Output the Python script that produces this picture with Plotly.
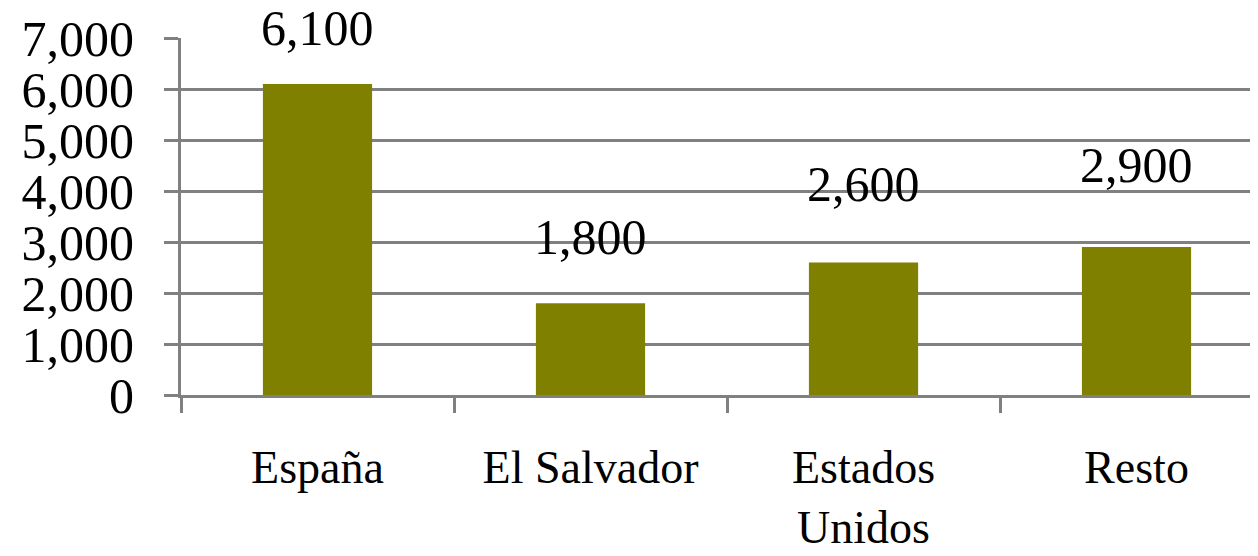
import plotly.graph_objects as go

# data
paises = ['España', 'El Salvador', 'Estados<br>Unidos', 'Resto']
valores = [6100, 1800, 2600, 2900]
y_ticks = [0, 1000, 2000, 3000, 4000, 5000, 6000, 7000]

# labels sit a bit above each bar, not at a fixed distance in the original
label_lift = [56, 66, 78, 82]

fig = go.Figure()

fig.add_trace(
    go.Bar(
        x=paises,
        y=valores,
        marker={'color': '#808000', 'line': {'width': 0}},
        showlegend=False,
    )
)

for p, v, lift in zip(paises, valores, label_lift):
    fig.add_annotation(
        x=p, y=v, text=f'{v:,}',
        showarrow=False, yshift=lift,
        font={'size': 50, 'color': 'black', 'family': 'Liberation Serif'},
    )

# page body has an 8px margin, so the figure is a bit smaller than the window
fig.update_layout(
    width=1250, height=548,
    margin={'l': 173, 'r': 0, 't': 30, 'b': 161},
    plot_bgcolor='white', paper_bgcolor='white',
    bargap=0.6,
    font={'family': 'Liberation Serif', 'size': 46, 'color': 'black'},
)

fig.update_xaxes(
    range=[-0.5, 3.445],
    showline=True, linecolor='#808080', linewidth=3,
    ticks='outside', tickson='boundaries', ticklen=15,
    tickcolor='#808080', tickwidth=3,
    showgrid=False,
    ticklabelstandoff=30,
)

fig.update_yaxes(
    range=[0, 7000],
    tickmode='array', tickvals=y_ticks, tickformat=',',
    tickfont={'size': 50},
    showgrid=True, gridcolor='#808080', gridwidth=3,
    showline=True, linecolor='#808080', linewidth=3,
    ticks='outside', ticklen=14, tickcolor='#808080', tickwidth=3,
    ticklabelstandoff=20,
    zeroline=False,
)

fig.write_html("out.html")
